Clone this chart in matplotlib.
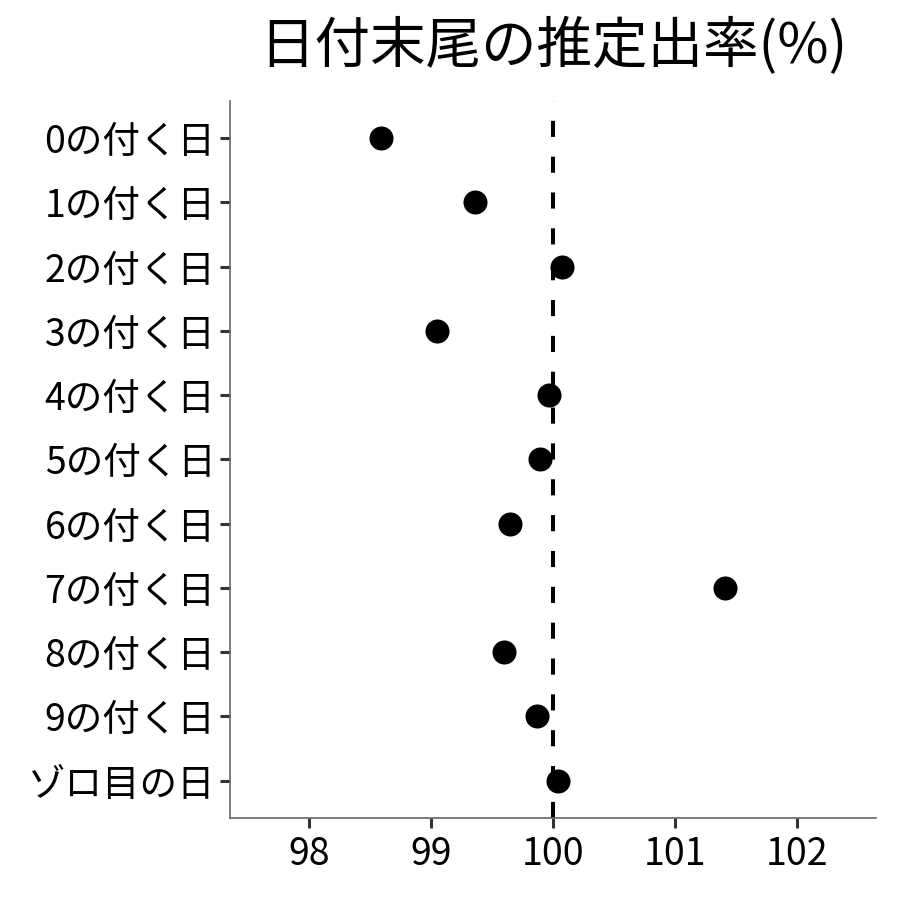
import matplotlib
matplotlib.use("Agg")
import matplotlib.pyplot as plt

plt.rcParams['font.family'] = ['Noto Sans CJK JP', 'DejaVu Sans']

categories = ["0の付く日", "1の付く日", "2の付く日", "3の付く日", "4の付く日",
              "5の付く日", "6の付く日", "7の付く日", "8の付く日", "9の付く日", "ゾロ目の日"]
values = [98.59, 99.36, 100.07, 99.05, 99.97, 99.89, 99.65, 101.41, 99.60, 99.87, 100.04]
xticks = [98, 99, 100, 101, 102]
ref_value = 100
title = "日付末尾の推定出率(%)"

fig = plt.figure(figsize=(9, 9), dpi=100)
ax = fig.add_axes([0.2556, 0.0911, 0.9733 - 0.2556, 0.8878 - 0.0911])

ypos = list(range(len(categories)))
ax.axvline(ref_value, color='black', linewidth=2.9, linestyle=(0, (4.0, 4.9)), zorder=1)
ax.scatter(values, ypos, s=300, color='black', zorder=3, linewidths=0)

ax.set_ylim(len(categories) - 1 + 0.58, -0.58)
ax.set_xlim(97.35, 102.65)
ax.set_yticks(ypos)
ax.set_yticklabels(categories)
ax.set_xticks(xticks)
ax.set_xticklabels([str(t) for t in xticks])

for s in ['top', 'right']:
    ax.spines[s].set_visible(False)
for s in ['left', 'bottom']:
    ax.spines[s].set_color('#666666')
    ax.spines[s].set_linewidth(1.2)
ax.tick_params(axis='both', length=7.5, width=2.2, color='#333333', labelsize=27,
               labelcolor='black')
ax.tick_params(axis='x', pad=5)
ax.tick_params(axis='y', pad=3)

fig.text((0.2556 + 0.9733) / 2, 0.948, title, ha='center', va='center', fontsize=40)

fig.savefig("out.png", dpi=100, facecolor='white')
